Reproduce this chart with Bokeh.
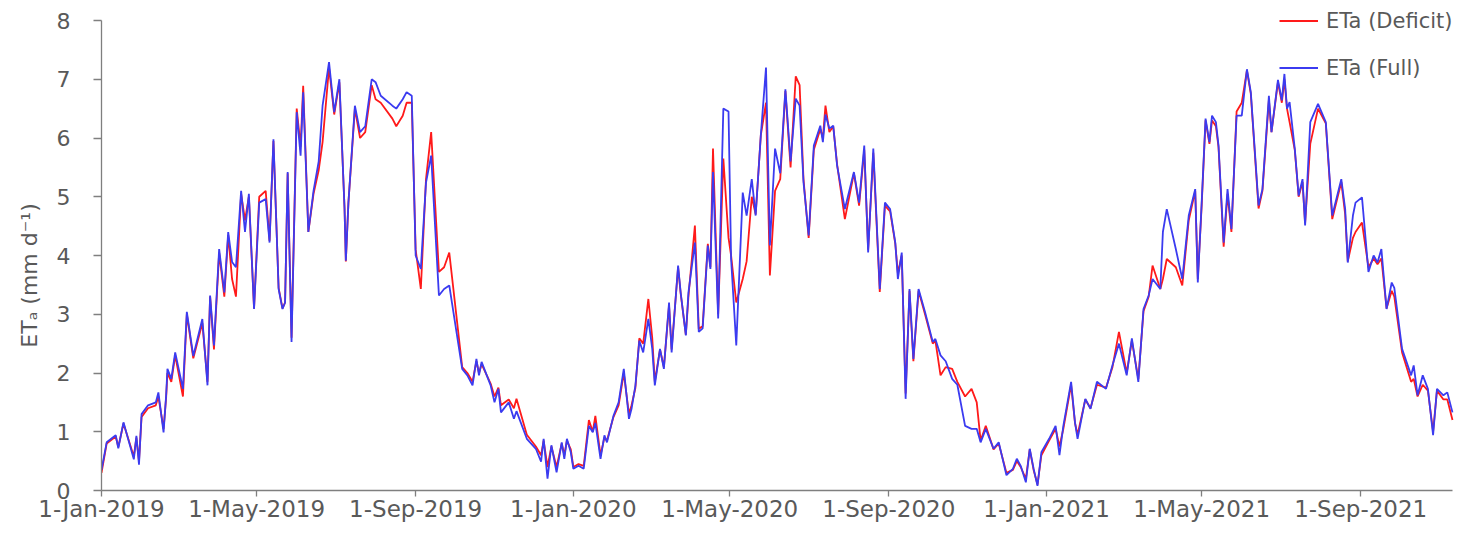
import pandas as pd
from bokeh.plotting import figure
from bokeh.models import Range1d, FixedTicker, Legend, LegendItem, ColumnDataSource
from bokeh.embed import file_html
from bokeh.resources import INLINE

start_date = "2019-01-01"

# days since 1-Jan-2019
day_offset = [
    0, 4, 11, 13, 17, 25, 27, 29, 31, 36,
    42, 44, 48, 50, 51, 54, 57, 63, 66, 71,
    78, 82, 84, 87, 91, 95, 98, 101, 104, 108,
    111, 114, 118, 122, 127, 130, 133, 137, 140, 142,
    144, 147, 151, 154, 156, 160, 164, 168, 171, 176,
    180, 184, 188, 189, 191, 196, 200, 204, 209, 212,
    216, 225, 228, 233, 236, 240, 243, 247, 251, 255,
    261, 265, 269, 279, 283, 287, 290, 292, 294, 301,
    304, 307, 309, 315, 319, 321, 329, 336, 340, 342,
    345, 348, 352, 356, 358, 360, 363, 365, 369, 373,
    377, 380, 382, 386, 389, 391, 396, 400, 404, 408,
    410, 413, 416, 419, 423, 426, 428, 432, 435, 439,
    441, 446, 448, 452, 454, 459, 462, 465, 469, 471,
    473, 477, 481, 485, 487, 491, 496, 499, 503, 506,
    510, 514, 517, 521, 525, 529, 533, 537, 540, 543,
    547, 551, 556, 558, 560, 563, 566, 569, 575, 582,
    586, 590, 593, 597, 602, 606, 610, 614, 616, 619,
    622, 625, 628, 632, 637, 643, 645, 649, 653, 658,
    662, 668, 673, 677, 680, 684, 690, 694, 700, 705,
    708, 711, 715, 718, 721, 724, 727, 733, 738, 741,
    744, 750, 753, 755, 761, 765, 770, 777, 782, 787,
    793, 797, 802, 806, 810, 813, 819, 821, 824, 831,
    836, 841, 846, 848, 851, 854, 857, 859, 862, 864,
    868, 871, 874, 878, 882, 886, 889, 895, 898, 903,
    905, 910, 913, 915, 917, 919, 923, 926, 929, 931,
    935, 941, 947, 952, 959, 962, 964, 968, 970, 975,
    980, 984, 987, 990, 994, 998, 1000, 1006, 1013, 1015,
    1018, 1022, 1026, 1030, 1033, 1038, 1041, 1045,
]

eta_full = [
    0.35, 0.82, 0.94, 0.72, 1.16, 0.53, 0.93, 0.44, 1.30, 1.45,
    1.50, 1.67, 0.99, 1.62, 2.07, 1.90, 2.35, 1.73, 3.04, 2.29,
    2.92, 1.79, 3.32, 2.47, 4.11, 3.37, 4.40, 3.89, 3.80, 5.10,
    4.40, 5.05, 3.09, 4.90, 4.96, 4.22, 5.98, 3.43, 3.09, 3.20,
    5.42, 2.53, 6.44, 5.70, 6.78, 4.40, 5.10, 5.60, 6.55, 7.29,
    6.44, 7.00, 4.79, 3.91, 4.90, 6.55, 6.10, 6.20, 7.00, 6.95,
    6.72, 6.55, 6.50, 6.66, 6.78, 6.72, 4.00, 3.77, 5.24, 5.70,
    3.32, 3.43, 3.49, 2.07, 1.96, 1.79, 2.24, 1.96, 2.19, 1.79,
    1.50, 1.73, 1.33, 1.50, 1.22, 1.35, 0.88, 0.71, 0.49, 0.88,
    0.20, 0.77, 0.31, 0.82, 0.54, 0.88, 0.65, 0.37, 0.42, 0.37,
    1.10, 0.99, 1.15, 0.54, 0.94, 0.82, 1.27, 1.50, 2.07, 1.22,
    1.39, 1.79, 2.55, 2.35, 2.92, 2.41, 1.79, 2.41, 2.07, 3.20,
    2.35, 3.83, 3.37, 2.64, 3.37, 4.22, 2.70, 2.76, 4.17, 3.77,
    5.42, 2.93, 6.50, 6.45, 3.94, 2.47, 5.07, 4.68, 5.30, 4.68,
    6.05, 7.20, 4.17, 5.82, 5.40, 6.83, 5.60, 6.67, 6.55, 5.25,
    4.34, 5.87, 6.21, 5.93, 6.40, 6.16, 6.21, 5.53, 4.79, 5.42,
    4.90, 5.87, 4.05, 5.82, 3.43, 4.90, 4.79, 4.22, 3.60, 4.05,
    1.56, 3.43, 2.24, 3.43, 3.04, 2.53, 2.58, 2.30, 2.20, 1.90,
    1.80, 1.10, 1.05, 1.05, 0.82, 1.05, 0.71, 0.82, 0.26, 0.37,
    0.54, 0.42, 0.14, 0.71, 0.37, 0.08, 0.65, 0.88, 1.10, 0.60,
    1.10, 1.85, 1.16, 0.88, 1.56, 1.39, 1.85, 1.73, 2.13, 2.50,
    1.96, 2.59, 1.85, 3.09, 3.32, 3.60, 3.43, 4.40, 4.79, 4.11,
    3.60, 4.68, 5.13, 3.54, 4.90, 6.33, 5.93, 6.38, 6.27, 5.88,
    4.22, 5.13, 4.45, 6.38, 6.38, 7.17, 6.78, 4.85, 5.13, 6.72,
    6.10, 6.99, 6.64, 7.09, 6.50, 6.61, 5.82, 5.02, 5.30, 4.51,
    6.27, 6.58, 6.27, 4.68, 5.30, 4.79, 3.88, 4.68, 4.90, 4.99,
    3.72, 4.00, 3.88, 4.11, 3.09, 3.54, 3.45, 2.41, 1.96, 2.13,
    1.62, 1.96, 1.73, 0.94, 1.73, 1.62, 1.67, 1.33,
]

eta_deficit = [
    0.30, 0.80, 0.92, 0.74, 1.14, 0.58, 0.90, 0.50, 1.25, 1.40,
    1.45, 1.60, 1.05, 1.58, 2.00, 1.85, 2.30, 1.60, 3.00, 2.25,
    2.85, 1.85, 3.30, 2.40, 4.05, 3.30, 4.35, 3.60, 3.30, 5.05,
    4.60, 5.00, 3.10, 5.00, 5.10, 4.25, 5.95, 3.45, 3.10, 3.20,
    5.40, 2.60, 6.50, 5.85, 6.89, 4.40, 5.05, 5.45, 5.93, 7.20,
    6.40, 6.95, 4.80, 3.90, 4.90, 6.50, 6.00, 6.10, 6.90, 6.66,
    6.60, 6.33, 6.20, 6.38, 6.60, 6.60, 4.10, 3.43, 5.30, 6.10,
    3.72, 3.80, 4.05, 2.10, 2.00, 1.85, 2.20, 2.00, 2.15, 1.82,
    1.60, 1.75, 1.45, 1.55, 1.40, 1.56, 0.95, 0.75, 0.60, 0.85,
    0.40, 0.75, 0.40, 0.80, 0.60, 0.85, 0.70, 0.40, 0.45, 0.42,
    1.20, 1.00, 1.27, 0.60, 0.90, 0.85, 1.25, 1.45, 2.00, 1.30,
    1.45, 1.75, 2.59, 2.50, 3.26, 2.60, 1.85, 2.40, 2.10, 3.15,
    2.40, 3.80, 3.35, 2.65, 3.30, 4.51, 2.75, 2.80, 4.20, 3.80,
    5.82, 3.00, 5.65, 4.30, 4.00, 3.20, 3.60, 3.90, 5.00, 4.70,
    6.05, 6.60, 3.66, 5.10, 5.30, 6.80, 5.50, 7.05, 6.90, 5.30,
    4.30, 5.80, 6.15, 6.00, 6.55, 6.10, 6.20, 5.55, 4.62, 5.40,
    4.85, 5.80, 4.10, 5.75, 3.38, 4.85, 4.75, 4.20, 3.70, 4.00,
    1.65, 3.40, 2.20, 3.40, 3.00, 2.50, 2.55, 1.96, 2.10, 2.07,
    1.85, 1.60, 1.73, 1.50, 0.85, 1.10, 0.70, 0.80, 0.30, 0.35,
    0.50, 0.40, 0.20, 0.70, 0.35, 0.10, 0.60, 0.85, 1.05, 0.75,
    1.05, 1.80, 1.15, 0.95, 1.55, 1.40, 1.80, 1.75, 2.10, 2.70,
    2.00, 2.55, 1.90, 3.05, 3.30, 3.83, 3.43, 3.60, 3.94, 3.80,
    3.49, 4.60, 5.10, 3.60, 4.85, 6.30, 5.90, 6.30, 6.20, 5.85,
    4.15, 5.05, 4.40, 6.45, 6.60, 7.15, 6.75, 4.80, 5.10, 6.65,
    6.10, 6.95, 6.60, 7.00, 6.50, 6.27, 5.80, 5.00, 5.25, 4.55,
    5.90, 6.50, 6.25, 4.62, 5.25, 4.70, 3.90, 4.30, 4.40, 4.56,
    3.80, 3.95, 3.85, 3.95, 3.10, 3.40, 3.30, 2.35, 1.85, 1.90,
    1.60, 1.80, 1.70, 1.00, 1.70, 1.55, 1.55, 1.20,
]

tick_dates = ["2019-01-01", "2019-05-01", "2019-09-01",
              "2020-01-01", "2020-05-01", "2020-09-01",
              "2021-01-01", "2021-05-01", "2021-09-01"]
tick_labels = ["1-Jan-2019", "1-May-2019", "1-Sep-2019",
               "1-Jan-2020", "1-May-2020", "1-Sep-2020",
               "1-Jan-2021", "1-May-2021", "1-Sep-2021"]
y_ticks = [0, 1, 2, 3, 4, 5, 6, 7, 8]

series_names = ["ETa (Deficit)", "ETa (Full)"]
y_label = "ET\u2090 (mm d\u207b\u00b9)" + "\u00a0" * 8

assert len(day_offset) == len(eta_full) == len(eta_deficit)

dates = pd.Timestamp(start_date) + pd.to_timedelta(day_offset, unit="D")
src = ColumnDataSource(dict(date=dates, full=eta_full, deficit=eta_deficit))

FONT = "DejaVu Sans"
TXT = "#595959"
AX = "#7f7f7f"

# the frame reaches a little beyond the axes (16px above "8", 3px right of the
# last day) so the legend is not clipped; the axis lines are bounded to the data
Y_TOP = 8 + 16 / 58.75
X_END = dates[-1] + pd.Timedelta(hours=56)

p = figure(width=1455, height=524, x_axis_type="datetime",
           output_backend="svg", toolbar_location=None,
           x_range=Range1d(dates[0], X_END), y_range=Range1d(0, Y_TOP),
           min_border_left=101, min_border_right=0, min_border_top=4,
           min_border_bottom=34)
p.outline_line_color = None
p.xgrid.visible = False
p.ygrid.visible = False
p.background_fill_color = "white"
p.border_fill_color = "white"

r_def = p.line("date", "deficit", source=src, line_color="#FF1A1A", line_width=1.8)
r_full = p.line("date", "full", source=src, line_color="#3B3BF0", line_width=1.8)

tick_ms = [pd.Timestamp(d).value // 10**6 for d in tick_dates]
p.xaxis.ticker = FixedTicker(ticks=tick_ms, minor_ticks=[])
p.xaxis.major_label_overrides = {float(m): lab for m, lab in zip(tick_ms, tick_labels)}
p.xaxis.bounds = (dates[0], dates[-1])
p.yaxis.ticker = FixedTicker(ticks=y_ticks, minor_ticks=[])
p.yaxis.bounds = (0, 8)

for ax in (p.xaxis[0], p.yaxis[0]):
    ax.axis_line_color = AX
    ax.axis_line_width = 1.3
    ax.major_tick_line_color = AX
    ax.major_tick_line_width = 1.3
    ax.major_tick_in = 0
    ax.minor_tick_line_color = None
    ax.major_label_text_font = FONT
    ax.major_label_text_color = TXT

p.xaxis.major_label_text_font_size = "23px"
p.yaxis.major_label_text_font_size = "22px"
p.xaxis.major_tick_out = 6
p.xaxis.major_label_standoff = -1
p.yaxis.major_tick_out = 8
p.yaxis.major_label_standoff = 23

p.yaxis.axis_label = y_label
p.yaxis.axis_label_text_font = FONT
p.yaxis.axis_label_text_font_size = "22px"
p.yaxis.axis_label_text_font_style = "normal"
p.yaxis.axis_label_text_color = TXT
p.yaxis.axis_label_standoff = 12

legend = Legend(items=[LegendItem(label=series_names[0], renderers=[r_def]),
                       LegendItem(label=series_names[1], renderers=[r_full])],
                location=(1178, 410), orientation="vertical",
                padding=0, spacing=22, margin=0,
                label_standoff=8, glyph_width=39, glyph_height=25, label_height=25,
                label_text_font=FONT, label_text_font_size="21px",
                label_text_color=TXT,
                background_fill_alpha=0, border_line_color=None)
p.add_layout(legend)

open("out.html", "w").write(file_html(p, INLINE))
